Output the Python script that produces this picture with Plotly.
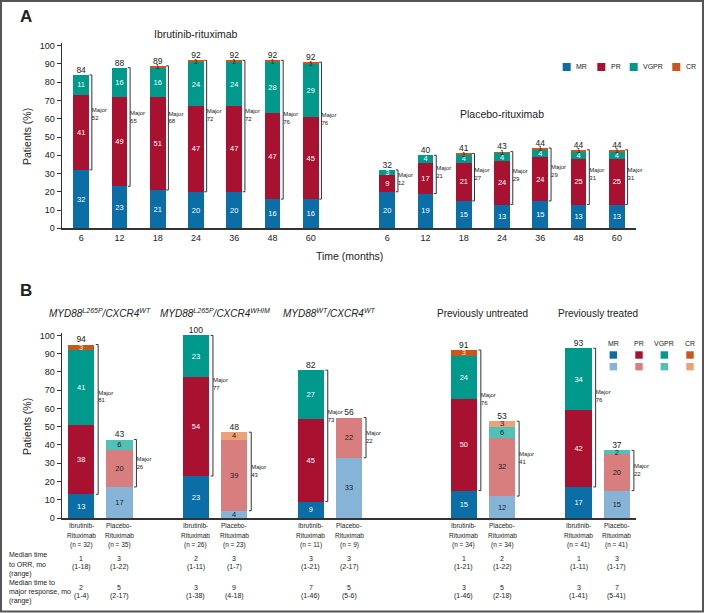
import plotly.graph_objects as go

# ---------------- Panel A data ----------------
time_labels = ["6", "12", "18", "24", "36", "48", "60"]
ibr_mr = [32, 23, 21, 20, 20, 16, 16]
ibr_pr = [41, 49, 51, 47, 47, 47, 45]
ibr_vgpr = [11, 16, 16, 24, 24, 28, 29]
ibr_cr = [0, 0, 1, 1, 1, 1, 1]
ibr_total = [84, 88, 89, 92, 92, 92, 92]
ibr_major = [52, 65, 68, 72, 72, 76, 76]

pbo_mr = [20, 19, 15, 13, 15, 13, 13]
pbo_pr = [9, 17, 21, 24, 24, 25, 25]
pbo_vgpr = [3, 4, 4, 4, 4, 4, 4]
pbo_cr = [0, 0, 1, 1, 1, 1, 1]
pbo_total = [32, 40, 41, 43, 44, 44, 44]
pbo_major = [12, 21, 27, 29, 29, 31, 31]

# ---------------- Panel B data ----------------
group_titles = [
    "<i>MYD88<sup>L265P</sup>/CXCR4<sup>WT</sup></i>",
    "<i>MYD88<sup>L265P</sup>/CXCR4<sup>WHIM</sup></i>",
    "<i>MYD88<sup>WT</sup>/CXCR4<sup>WT</sup></i>",
    "Previously untreated",
    "Previously treated",
]
b_ibr_mr = [13, 23, 9, 15, 17]
b_ibr_pr = [38, 54, 45, 50, 42]
b_ibr_vgpr = [41, 23, 27, 24, 34]
b_ibr_cr = [3, 0, 0, 3, 0]
b_ibr_total = [94, 100, 82, 91, 93]
b_ibr_major = [81, 77, 73, 76, 76]

b_pbo_mr = [17, 4, 33, 12, 15]
b_pbo_pr = [20, 39, 22, 32, 20]
b_pbo_vgpr = [6, 0, 0, 6, 2]
b_pbo_cr = [0, 4, 0, 3, 0]
b_pbo_total = [43, 48, 56, 53, 37]
b_pbo_major = [26, 43, 22, 41, 22]

b_ibr_n = [32, 26, 11, 34, 41]
b_pbo_n = [35, 23, 9, 34, 41]
b_ibr_orr_median = ["1", "2", "3", "1", "1"]
b_ibr_orr_range = ["(1-18)", "(1-11)", "(1-21)", "(1-21)", "(1-11)"]
b_pbo_orr_median = ["3", "3", "3", "2", "3"]
b_pbo_orr_range = ["(1-22)", "(1-7)", "(2-17)", "(1-22)", "(1-17)"]
b_ibr_maj_median = ["2", "3", "7", "3", "3"]
b_ibr_maj_range = ["(1-4)", "(1-38)", "(1-46)", "(1-46)", "(1-41)"]
b_pbo_maj_median = ["5", "9", "5", "5", "7"]
b_pbo_maj_range = ["(2-17)", "(4-18)", "(5-6)", "(2-18)", "(5-41)"]

categories = ["MR", "PR", "VGPR", "CR"]

# ---------------- Layout helpers ----------------
W, H = 704, 613
ML, MRG, MT, MB = 62, 68, 43, 95
PW = W - ML - MRG
PH = H - MT - MB


def px(p):
    return (p - ML) / PW


def py(p):
    return (H - MB - p) / PH


FONT = "Liberation Sans, Arial, sans-serif"
TXT = "#222222"
AX = "#333333"
C_DARK = {"MR": "#0b6ea6", "PR": "#a8112f", "VGPR": "#00998c", "CR": "#c9561b"}
C_LIGHT = {"MR": "#86b4d7", "PR": "#d97e7e", "VGPR": "#4fc1b6", "CR": "#eca178"}

a_ibr_x = list(range(7))
a_pbo_x = list(range(8, 15))
b_ibr_x = [0, 3, 6, 10, 13]
b_pbo_x = [1, 4, 7, 11, 14]

fig = go.Figure()


def lab(vals):
    return [str(v) if v else "" for v in vals]


def add_bars(x, series, colors, width, xa, ya, txtcol, size):
    for name, vals in zip(categories, series):
        fig.add_trace(go.Bar(
            x=x, y=vals, width=width,
            marker=dict(color=colors[name], line=dict(width=0)),
            text=lab(vals), textposition="inside", insidetextanchor="middle",
            textangle=0, constraintext="none",
            textfont=dict(family=FONT, size=size, color=txtcol[name]),
            xaxis=xa, yaxis=ya, showlegend=False, hoverinfo="skip"))


def add_brackets(x, series, totals, majors, half, gap, tick, frac, xa, ya, fs, tfs):
    bottoms = series[0]
    tops = [sum(v) for v in zip(*series)]
    bx, by, lx, ly = [], [], [], []
    for xi, b, t in zip(x, bottoms, tops):
        xv = xi + half + gap
        bx += [xv - tick, xv, xv, xv - tick, None]
        by += [t, t, b, b, None]
        lx.append(xv)
        ly.append(b + frac * (t - b))
    fig.add_trace(go.Scatter(x=bx, y=by, mode="lines", line=dict(color=AX, width=1),
                             xaxis=xa, yaxis=ya, showlegend=False, hoverinfo="skip"))
    fig.add_trace(go.Scatter(x=lx, y=ly, mode="text", text=[f"Major<br>{m}" for m in majors],
                             textposition="middle right",
                             textfont=dict(family=FONT, size=fs, color=TXT),
                             xaxis=xa, yaxis=ya, showlegend=False, hoverinfo="skip", cliponaxis=False))
    fig.add_trace(go.Scatter(x=x, y=tops, mode="text", text=[str(t) for t in totals],
                             textposition="top center",
                             textfont=dict(family=FONT, size=tfs, color=TXT),
                             xaxis=xa, yaxis=ya, showlegend=False, hoverinfo="skip", cliponaxis=False))


# Panel A
a_x = a_ibr_x + a_pbo_x
a_series = [ibr_mr + pbo_mr, ibr_pr + pbo_pr, ibr_vgpr + pbo_vgpr, ibr_cr + pbo_cr]
white_txt = {"MR": "white", "PR": "white", "VGPR": "white", "CR": TXT}
add_bars(a_x, a_series, C_DARK, 0.41, "x", "y", white_txt, 7.5)
add_brackets(a_ibr_x, [ibr_mr, ibr_pr, ibr_vgpr, ibr_cr], ibr_total, ibr_major,
             0.205, 0.075, 0.06, 0.58, "x", "y", 6, 8.5)
add_brackets(a_pbo_x, [pbo_mr, pbo_pr, pbo_vgpr, pbo_cr], pbo_total, pbo_major,
             0.205, 0.075, 0.06, 0.55, "x", "y", 6, 8.5)

# Panel B
b_ibr_series = [b_ibr_mr, b_ibr_pr, b_ibr_vgpr, b_ibr_cr]
b_pbo_series = [b_pbo_mr, b_pbo_pr, b_pbo_vgpr, b_pbo_cr]
add_bars(b_ibr_x, b_ibr_series, C_DARK, 0.69, "x2", "y2",
         {"MR": "white", "PR": "white", "VGPR": "white", "CR": "#f3e3d8"}, 7.5)
add_bars(b_pbo_x, b_pbo_series, C_LIGHT, 0.69, "x2", "y2",
         {k: TXT for k in categories}, 7.5)
add_brackets(b_ibr_x, b_ibr_series, b_ibr_total, b_ibr_major,
             0.345, 0.1, 0.06, 0.65, "x2", "y2", 6, 8.5)
add_brackets(b_pbo_x, b_pbo_series, b_pbo_total, b_pbo_major,
             0.345, 0.1, 0.06, 0.5, "x2", "y2", 6, 8.5)

ann = []
shapes = []


def A(text, x, y, size, xref="paper", yref="paper", xanchor="center", yanchor="middle",
      bold=False, angle=0, align="center"):
    ann.append(dict(text=f"<b>{text}</b>" if bold else text, x=x, y=y, xref=xref, yref=yref,
                    xanchor=xanchor, yanchor=yanchor, showarrow=False, textangle=angle,
                    align=align, font=dict(family=FONT, size=size, color=TXT)))


def lines(texts, x, ys, size, xref="paper", xanchor="center"):
    for t, yy in zip(texts, ys):
        A(t, x, py(yy), size, xref=xref, xanchor=xanchor)


A("A", px(26), py(16), 17, bold=True)
A("B", px(26), py(290), 17, bold=True)
A("Ibrutinib-rituximab", 3, py(34), 10.5, xref="x")
A("Placebo-rituximab", 11, py(114), 10.5, xref="x")
A("Time (months)", 0.5, py(256), 10.5)
A("Patients (%)", px(27), py(137), 10.5, angle=-90)
A("Patients (%)", px(27), py(427), 10.5, angle=-90)

for i, t in enumerate(group_titles):
    A(t, (b_ibr_x[i] + b_pbo_x[i]) / 2, py(313), 10, xref="x2")

cat_y = [525.7, 535.3, 545]
for xi, n in zip(b_ibr_x, b_ibr_n):
    lines(["Ibrutinib-", "Rituximab", f"(n = {n})"], xi, cat_y, 6.5, xref="x2")
for xi, n in zip(b_pbo_x, b_pbo_n):
    lines(["Placebo-", "Rituximab", f"(n = {n})"], xi, cat_y, 6.5, xref="x2")

lines(["Median time", "to ORR, mo", "(range)"], px(7), [554.3, 564, 573.7], 7,
      xanchor="left")
lines(["Median time to", "major response, mo", "(range)"], px(7), [582.7, 592, 601.3], 7,
      xanchor="left")
for xs, meds, rngs in ((b_ibr_x, b_ibr_orr_median, b_ibr_orr_range),
                       (b_pbo_x, b_pbo_orr_median, b_pbo_orr_range)):
    for xi, m, r in zip(xs, meds, rngs):
        lines([m, r], xi, [558, 567.3], 7, xref="x2")
for xs, meds, rngs in ((b_ibr_x, b_ibr_maj_median, b_ibr_maj_range),
                       (b_pbo_x, b_pbo_maj_median, b_pbo_maj_range)):
    for xi, m, r in zip(xs, meds, rngs):
        lines([m, r], xi, [587, 596.3], 7, xref="x2")

# Legend A
leg_a = {"MR": 562.7, "PR": 597.3, "VGPR": 629.7, "CR": 672.3}
for k, x0 in leg_a.items():
    shapes.append(dict(type="rect", xref="paper", yref="paper", x0=px(x0), x1=px(x0 + 8),
                       y0=py(71), y1=py(63), fillcolor=C_DARK[k], line=dict(width=0)))
    A(k, px(x0 + 11.5), py(67), 7, xanchor="left")

# Legend B
leg_b = {"MR": 613.3, "PR": 639, "VGPR": 664.3, "CR": 690}
for k, xc in leg_b.items():
    A(k, px(xc), py(343), 7)
    for yc, cols in ((355, C_DARK), (366.7, C_LIGHT)):
        shapes.append(dict(type="rect", xref="paper", yref="paper", x0=px(xc - 3.7), x1=px(xc + 3.7),
                           y0=py(yc + 3.7), y1=py(yc - 3.7), fillcolor=cols[k], line=dict(width=0)))

# Outer frame
shapes.append(dict(type="rect", xref="paper", yref="paper", x0=px(1), x1=px(703),
                   y0=py(611.5), y1=py(1), line=dict(color="#555555", width=2),
                   fillcolor="rgba(0,0,0,0)", layer="above"))

axis_common = dict(showgrid=False, zeroline=False, showline=True, linecolor=AX, linewidth=1.5,
                   fixedrange=True)
yticks = list(range(0, 101, 10))

fig.update_layout(
    width=W, height=H,
    margin=dict(l=ML, r=MRG, t=MT, b=MB, pad=0),
    paper_bgcolor="white", plot_bgcolor="white",
    barmode="stack", bargap=0,
    font=dict(family=FONT, color=TXT),
    showlegend=False,
    xaxis=dict(domain=[0, 1], range=[-0.5, 14.5], anchor="y", tickvals=a_x,
               ticktext=time_labels * 2, ticks="", tickfont=dict(size=9, color=TXT),
               **axis_common),
    yaxis=dict(domain=[py(228.3), 1], range=[0, 101.5], anchor="x", tickvals=yticks,
               ticks="outside", ticklen=4, tickcolor=AX, tickwidth=1,
               tickfont=dict(size=9, color=TXT), **axis_common),
    xaxis2=dict(domain=[0, 1], range=[-0.5, 14.5], anchor="y2", showticklabels=False,
                ticks="", **axis_common),
    yaxis2=dict(domain=[0, py(332.7)], range=[0, 101.5], anchor="x2", tickvals=yticks,
                ticks="outside", ticklen=4, tickcolor=AX, tickwidth=1,
                tickfont=dict(size=9, color=TXT), **axis_common),
    annotations=ann,
    shapes=shapes,
)

fig.write_html("out.html", config={"displayModeBar": False, "staticPlot": True})

# remove default page margins so the 704x613 figure fills the window exactly
with open("out.html", encoding="utf-8") as f:
    html = f.read()
html = html.replace("<head>", "<head><style>html,body{margin:0;padding:0;overflow:hidden;}</style>", 1)
with open("out.html", "w", encoding="utf-8") as f:
    f.write(html)
